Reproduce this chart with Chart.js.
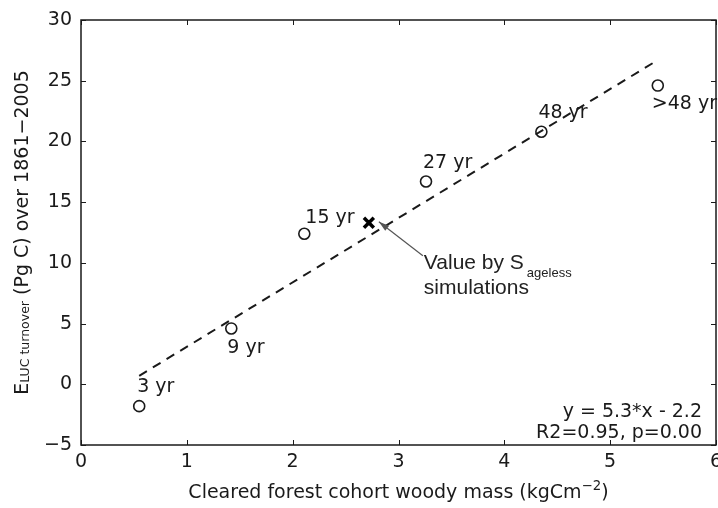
<!DOCTYPE html>
<html>
<head>
<meta charset="utf-8">
<script src="https://cdn.jsdelivr.net/npm/chart.js@4.4.1/dist/chart.umd.min.js"></script>
<style>
  body { margin: 0; background: #fff; }
  canvas { display: block; }
</style>
</head>
<body>
<canvas id="chart" width="718" height="508"></canvas>
<script>
// cohort results
const cohortLabels = ['3 yr', '9 yr', '15 yr', '27 yr', '48 yr', '>48 yr'];
const cohortMass = [0.55, 1.42, 2.11, 3.26, 4.35, 5.45];
const cohortEluc = [-1.8, 4.6, 12.4, 16.7, 20.8, 24.6];

// S_ageless simulation value
const agelessMass = [2.72];
const agelessEluc = [13.3];

// regression line end points
const fitMass = [0.55, 5.45];
const fitEluc = [0.7, 26.7];

const xTicks = [0, 1, 2, 3, 4, 5, 6];
const yTicks = [-5, 0, 5, 10, 15, 20, 25, 30];
const statLines = ['y = 5.3*x - 2.2', 'R2=0.95, p=0.00'];

const ink = '#1a1a1a';
const mainFont = '"DejaVu Sans", sans-serif';
const helv = '"Liberation Sans", Arial, sans-serif';
const fs = 19;

// label offsets in px from each point (left edge, baseline)
const labelOffsets = [[-2, -14], [-4, 25], [1, -11], [-3, -14], [-3, -14], [-6, 23]];

const ctx = document.getElementById('chart').getContext('2d');

const decorations = {
    id: 'decorations',
    afterDraw(chart) {
        const c = chart.ctx;
        const a = chart.chartArea;
        const xs = chart.scales.x;
        const ys = chart.scales.y;
        c.save();

        // frame
        c.strokeStyle = ink;
        c.lineWidth = 1.5;
        c.strokeRect(a.left, a.top, a.right - a.left, a.bottom - a.top);

        // inward ticks on all four sides
        c.lineWidth = 1;
        c.beginPath();
        xTicks.forEach(v => {
            const px = Math.round(xs.getPixelForValue(v)) + 0.5;
            c.moveTo(px, a.bottom); c.lineTo(px, a.bottom - 5);
            c.moveTo(px, a.top); c.lineTo(px, a.top + 5);
        });
        yTicks.forEach(v => {
            const py = Math.round(ys.getPixelForValue(v)) + 0.5;
            c.moveTo(a.left, py); c.lineTo(a.left + 5, py);
            c.moveTo(a.right, py); c.lineTo(a.right - 5, py);
        });
        c.stroke();

        // x tick labels (drawn here so the last one may run off the canvas)
        c.fillStyle = ink;
        c.font = fs + 'px ' + mainFont;
        c.textAlign = 'center';
        c.textBaseline = 'alphabetic';
        xTicks.forEach(v => {
            c.fillText(String(v), xs.getPixelForValue(v), a.bottom + 22);
        });

        // point labels
        c.textAlign = 'left';
        cohortLabels.forEach((t, i) => {
            const px = xs.getPixelForValue(cohortMass[i]);
            const py = ys.getPixelForValue(cohortEluc[i]);
            c.fillText(t, px + labelOffsets[i][0], py + labelOffsets[i][1]);
        });

        // fit statistics
        c.textAlign = 'right';
        c.fillText(statLines[0], a.right - 14, a.bottom - 28);
        c.fillText(statLines[1], a.right - 14, a.bottom - 7);

        // annotation with arrow
        const ax = xs.getPixelForValue(agelessMass[0]);
        const ay = ys.getPixelForValue(agelessEluc[0]);
        const tipX = ax + 10, tipY = ay - 1;
        const tailX = ax + 54, tailY = ay + 33;
        c.strokeStyle = '#555';
        c.fillStyle = '#555';
        c.lineWidth = 1.2;
        c.beginPath();
        c.moveTo(tailX, tailY);
        c.lineTo(tipX, tipY);
        c.stroke();
        const ang = Math.atan2(tipY - tailY, tipX - tailX);
        c.beginPath();
        c.moveTo(tipX, tipY);
        c.lineTo(tipX - 11 * Math.cos(ang - 0.3), tipY - 11 * Math.sin(ang - 0.3));
        c.lineTo(tipX - 11 * Math.cos(ang + 0.3), tipY - 11 * Math.sin(ang + 0.3));
        c.closePath();
        c.fill();

        c.fillStyle = '#222';
        c.textAlign = 'left';
        c.font = '21px ' + helv;
        const tx = ax + 55, ty = ay + 46;
        c.fillText('Value by S', tx, ty);
        const w = c.measureText('Value by S').width;
        c.font = '13px ' + helv;
        c.fillText('ageless', tx + w + 3, ty + 8);
        c.font = '21px ' + helv;
        c.fillText('simulations', tx, ty + 25);

        // x axis title with superscript
        c.fillStyle = ink;
        const xParts = [
            { t: 'Cleared forest cohort woody mass (kgCm', s: fs, dy: 0 },
            { t: '\u22122', s: 13.3, dy: -8 },
            { t: ')', s: fs, dy: 0 }
        ];
        let total = 0;
        xParts.forEach(p => { c.font = p.s + 'px ' + mainFont; p.w = c.measureText(p.t).width; total += p.w; });
        let cx = (a.left + a.right) / 2 - total / 2;
        xParts.forEach(p => {
            c.font = p.s + 'px ' + mainFont;
            c.fillText(p.t, cx, 498 + p.dy);
            cx += p.w;
        });

        // y axis title with subscript
        const yParts = [
            { t: 'E', s: fs, dy: 0 },
            { t: 'LUC turnover', s: 12.5, dy: 1 },
            { t: ' (Pg C) over 1861\u22122005', s: fs, dy: 0 }
        ];
        total = 0;
        yParts.forEach(p => { c.font = p.s + 'px ' + mainFont; p.w = c.measureText(p.t).width; total += p.w; });
        c.translate(28, (a.top + a.bottom) / 2);
        c.rotate(-Math.PI / 2);
        cx = -total / 2;
        yParts.forEach(p => {
            c.font = p.s + 'px ' + mainFont;
            c.fillText(p.t, cx, p.dy);
            cx += p.w;
        });

        c.restore();
    }
};

const config = {
    type: 'scatter',
    data: {
        datasets: [{
            type: 'line',
            label: 'fit',
            data: fitMass.map((x, i) => ({ x: x, y: fitEluc[i] })),
            borderColor: ink,
            borderWidth: 2,
            borderDash: [9, 7],
            pointRadius: 0,
            fill: false
        }, {
            label: 'cohorts',
            data: cohortMass.map((x, i) => ({ x: x, y: cohortEluc[i] })),
            pointStyle: 'circle',
            pointRadius: 5.5,
            borderColor: ink,
            borderWidth: 1.6,
            backgroundColor: 'rgba(0,0,0,0)'
        }, {
            label: 'ageless',
            data: agelessMass.map((x, i) => ({ x: x, y: agelessEluc[i] })),
            pointStyle: 'crossRot',
            pointRadius: 7,
            borderColor: '#000',
            borderWidth: 3.5
        }]
    },
    options: {
        responsive: false,
        animation: false,
        layout: { autoPadding: false, padding: { top: 20, right: 2, left: 0, bottom: 0 } },
        plugins: {
            legend: { display: false },
            tooltip: { enabled: false }
        },
        scales: {
            x: {
                type: 'linear',
                min: 0,
                max: 6,
                afterFit: s => { s.height = 63; },
                afterBuildTicks: s => { s.ticks = xTicks.map(v => ({ value: v })); },
                grid: { display: false, drawTicks: false },
                border: { display: false },
                ticks: { display: false }
            },
            y: {
                type: 'linear',
                min: -5,
                max: 30,
                afterFit: s => { s.width = 81; s.paddingTop = 0; s.paddingBottom = 0; },
                afterBuildTicks: s => { s.ticks = yTicks.map(v => ({ value: v })); },
                grid: { display: false, drawTicks: false },
                border: { display: false },
                ticks: {
                    color: ink,
                    padding: 9,
                    font: { family: mainFont, size: fs },
                    callback: v => String(v).replace('-', '\u2212')
                }
            }
        }
    },
    plugins: [decorations]
};

const chart = new Chart(ctx, config);
</script>
</body>
</html>
